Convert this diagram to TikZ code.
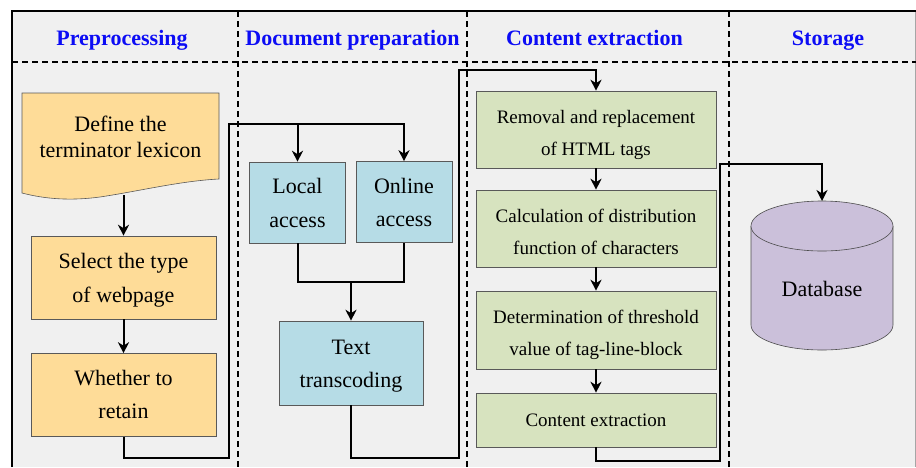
\documentclass[tikz,border=0pt]{standalone}
\usepackage{fontspec}
\setmainfont{Liberation Serif}
\usetikzlibrary{arrows.meta}

\definecolor{lanebg}{RGB}{240,240,240}
\definecolor{prefill}{RGB}{254,220,152}
\definecolor{docfill}{RGB}{182,220,230}
\definecolor{extfill}{RGB}{215,227,191}
\definecolor{dbfill}{RGB}{203,192,218}
\definecolor{headblue}{RGB}{12,12,245}

\tikzset{
  lanesep/.style={draw=black, line width=1.2pt, dash pattern=on 6pt off 4pt},
  link/.style={draw=black, line width=2pt},
  flow/.style={link, -{Stealth[length=11pt,width=11pt,inset=3.5pt]}},
  headtxt/.style={text=headblue, anchor=base, font=\fontsize{22}{26}\selectfont\bfseries},
  % fixed text box height: places the last baseline at center + #1/2
  textlift/.style={text height=#1, text depth=0pt},
  procbox/.style={draw=black!65, line width=0.6pt, inner sep=0pt, align=center,
                  font=\fontsize{22}{33.5}\selectfont, textlift=49pt},
  prebox/.style={procbox, fill=prefill, minimum width=185pt, minimum height=83pt},
  accbox/.style={procbox, fill=docfill, minimum width=96pt, minimum height=81pt},
  extbox/.style={procbox, fill=extfill, minimum width=240pt, textlift=51pt,
                 font=\fontsize{19}{32}\selectfont},
}

\begin{document}
\begin{tikzpicture}[x=1pt,y=-1pt]
  \useasboundingbox (0,0) rectangle (916,467);

  % swimlane frame
  \fill[lanebg] (12,11) rectangle (916,467);
  \draw[black!35, line width=0.6pt] (915,11) -- (915,467);
  \draw[black, line width=2.4pt] (12,467) -- (12,11) -- (916,11);
  \draw[lanesep] (12,62) -- (916,62);
  \draw[lanesep] (238,11) -- (238,467);
  \draw[lanesep] (467,11) -- (467,467);
  \draw[lanesep] (729,11) -- (729,467);

  % lane titles
  \node[headtxt] (hpre) at (122,45) {Preprocessing};
  \node[headtxt] (hdoc) at (352.5,45) {Document preparation};
  \node[headtxt] (hext) at (594.5,45) {Content extraction};
  \node[headtxt] (hsto) at (828,45) {Storage};

  % preprocessing: document-shaped first step
  \fill[prefill, draw=black!65, line width=0.6pt]
    (22,93) -- (219,93) -- (219,179)
    .. controls (180,181) and (140,191) .. (100,197)
    .. controls (70,201) and (45,199) .. (22,193) -- cycle;
  \node[inner sep=0pt, align=center, font=\fontsize{22}{26}\selectfont,
        textlift=40pt, minimum width=197pt, minimum height=115pt]
        (def) at (120.5,137.5) {Define the\\terminator lexicon};
  \node[prebox] (sel) at (123.5,277.5) {Select the type\\of webpage};
  \node[prebox, textlift=47pt] (ret) at (123.5,395) {Whether to\\retain};

  % document preparation
  \node[accbox] (loc) at (297.5,202.5) {Local\\access};
  \node[accbox] (onl) at (404,202) {Online\\access};
  \node[procbox, fill=docfill, minimum width=144pt, minimum height=84pt]
        (txt) at (351,363) {Text\\transcoding};

  % content extraction
  \node[extbox, minimum height=77pt, textlift=52pt] (g1) at (596,129.5) {Removal and replacement\\of HTML tags};
  \node[extbox, minimum height=77pt] (g2) at (596,228.5) {Calculation of distribution\\function of characters};
  \node[extbox, minimum height=78pt, textlift=50pt] (g3) at (596,330) {Determination of threshold\\value of tag-line-block};
  \node[extbox, minimum height=54pt, textlift=13pt] (g4) at (596,420) {Content extraction};

  % storage: database cylinder
  \fill[dbfill] (751,226) rectangle (893,325);
  \fill[dbfill] (822,325) ellipse [x radius=71, y radius=25];
  \draw[black!70, line width=0.6pt] (751,226) -- (751,325)
    arc[start angle=180, end angle=0, x radius=71, y radius=25] -- (893,226);
  \filldraw[fill=dbfill, draw=black!70, line width=0.6pt]
    (822,226) ellipse [x radius=71, y radius=25];
  \coordinate (dbtop) at (822,201);
  \node[anchor=base, font=\fontsize{22}{26}\selectfont] (db) at (822,296) {Database};

  % routing points
  \coordinate (busA) at (229,124);
  \coordinate (mergeB) at (351,282);
  \coordinate (busC) at (459,70);
  \coordinate (busD) at (720,164);

  % connectors
  \draw[flow] (sel.north |- 0,195) -- (sel.north);
  \draw[flow] (sel.south) -- (ret.north);
  \draw[flow] (ret.south) -- ++(0,21) -| (busA) -| (onl.north);
  \draw[flow] (busA -| loc.north) -- (loc.north);
  \draw[link] (loc.south) |- (mergeB) -| (onl.south);
  \draw[flow] (mergeB) -- (txt.north);
  \draw[flow] (txt.south) -- ++(0,53) -| (busC) -| (g1.north);
  \draw[flow] (g1.south) -- (g2.north);
  \draw[flow] (g2.south) -- (g3.north);
  \draw[flow] (g3.south) -- (g4.north);
  \draw[flow] (g4.south) -- ++(0,14) -| (busD) -| (dbtop);
\end{tikzpicture}
\end{document}
